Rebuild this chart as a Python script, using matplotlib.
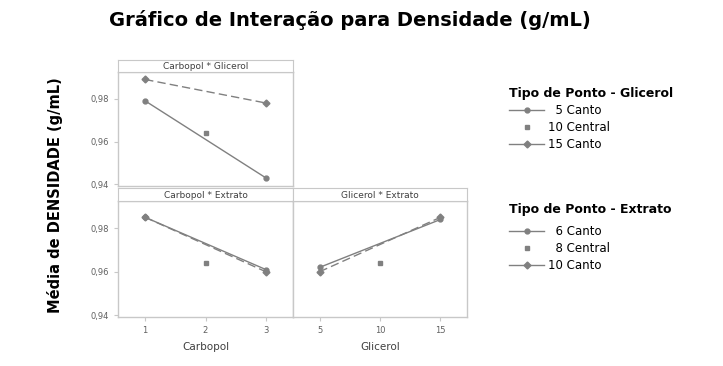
import matplotlib
matplotlib.use("Agg")
import matplotlib.pyplot as plt
from matplotlib.lines import Line2D

# Carbopol * Glicerol (top-left panel)
carbopol_corner = [1, 3]
glic5_vs_carb = [0.979, 0.943]
glic15_vs_carb = [0.989, 0.978]
carb_center = [2]
glic10_center = [0.964]

# Carbopol * Extrato (bottom-left panel)
ext6_vs_carb = [0.985, 0.961]
ext10_vs_carb = [0.985, 0.960]
ext8_center_carb = [0.964]

# Glicerol * Extrato (bottom-right panel)
glicerol_corner = [5, 15]
glic_center = [10]
ext6_vs_glic = [0.962, 0.984]
ext10_vs_glic = [0.960, 0.985]
ext8_center_glic = [0.964]

yticks = [0.94, 0.96, 0.98]
ytick_labels = ["0,94", "0,96", "0,98"]

FRAME = "#c8c8c8"
LINE = "#808080"
TICK = "#606060"

fig = plt.figure(figsize=(7.23, 3.66), dpi=100)


def px(x0, y0, x1, y1):
    W, H = 723, 366
    return [x0 / W, 1 - y1 / H, (x1 - x0) / W, (y1 - y0) / H]


def style(ax, xt=None, xl=None, left=True):
    for s in ax.spines.values():
        s.set_color(FRAME)
        s.set_linewidth(1.0)
    ax.set_ylim(0.9392, 0.9925)
    ax.set_yticks(yticks)
    if left:
        ax.set_yticklabels(ytick_labels)
    else:
        ax.tick_params(axis="y", left=False, labelleft=False)
    if xt is None:
        ax.tick_params(axis="x", bottom=False, labelbottom=False)
    else:
        ax.set_xticks(xt)
        ax.set_xticklabels(xl)
    ax.tick_params(colors=FRAME, labelcolor=TICK, labelsize=6, length=3, width=0.8)


def strip(rect, label):
    s = fig.add_axes(rect)
    s.set_xticks([])
    s.set_yticks([])
    for sp in s.spines.values():
        sp.set_color(FRAME)
    s.text(0.5, 0.45, label, ha="center", va="center", fontsize=6.5, color="#404040")


def draw(ax, xc, solid, dashed, xm, center):
    ax.plot(xc, solid, "-", color=LINE, lw=1.0, marker="o", ms=3.5)
    ax.plot(xc, dashed, "--", color=LINE, lw=1.0, marker="D", ms=3.5, dashes=(6, 3))
    ax.plot(xm, center, "s", color=LINE, ms=3.5)


ax1 = fig.add_axes(px(118, 72, 293, 186))
draw(ax1, carbopol_corner, glic5_vs_carb, glic15_vs_carb, carb_center, glic10_center)
ax1.set_xlim(0.55, 3.45)
style(ax1)
strip(px(118, 60, 293, 72), "Carbopol * Glicerol")

ax2 = fig.add_axes(px(118, 201, 293, 317))
draw(ax2, carbopol_corner, ext6_vs_carb, ext10_vs_carb, carb_center, ext8_center_carb)
ax2.set_xlim(0.55, 3.45)
style(ax2, [1, 2, 3], ["1", "2", "3"])
ax2.set_xlabel("Carbopol", fontsize=7.5, color="#404040", labelpad=5)
strip(px(118, 188, 293, 201), "Carbopol * Extrato")

ax3 = fig.add_axes(px(293, 201, 467, 317))
draw(ax3, glicerol_corner, ext6_vs_glic, ext10_vs_glic, glic_center, ext8_center_glic)
ax3.set_xlim(2.8, 17.2)
style(ax3, [5, 10, 15], ["5", "10", "15"], left=False)
ax3.set_xlabel("Glicerol", fontsize=7.5, color="#404040", labelpad=5)
strip(px(293, 188, 467, 201), "Glicerol * Extrato")

fig.text(350 / 723, 1 - 20 / 366, "Gráfico de Interação para Densidade (g/mL)", ha="center",
         va="center", fontsize=14, fontweight="bold")
fig.text(55 / 723, 1 - 195 / 366, "Média de DENSIDADE (g/mL)", rotation=90, ha="center",
         va="center", fontsize=10.5, fontweight="bold")


def handles(labels):
    return [
        Line2D([], [], color=LINE, lw=1.0, marker="o", ms=3.5, label=labels[0]),
        Line2D([], [], color=LINE, lw=0, marker="s", ms=3.5, label=labels[1]),
        Line2D([], [], color=LINE, lw=1.0, marker="D", ms=3.5, label=labels[2]),
    ]


common = dict(loc="upper left", frameon=False, fontsize=8.5, handlelength=2.9,
              handletextpad=0.4, labelspacing=0.33, alignment="left",
              title_fontproperties={"weight": "bold", "size": 9})
fig.legend(handles=handles(["  5 Canto", "10 Central", "15 Canto"]),
           bbox_to_anchor=(0.69, 0.79), title="Tipo de Ponto - Glicerol", **common)
leg2 = fig.legend(handles=handles(["  6 Canto", "  8 Central", "10 Canto"]),
                  bbox_to_anchor=(0.69, 0.475), title="Tipo de Ponto - Extrato", **common)
leg2._legend_box.sep = 7

fig.savefig("out.png", dpi=100, facecolor="white")
